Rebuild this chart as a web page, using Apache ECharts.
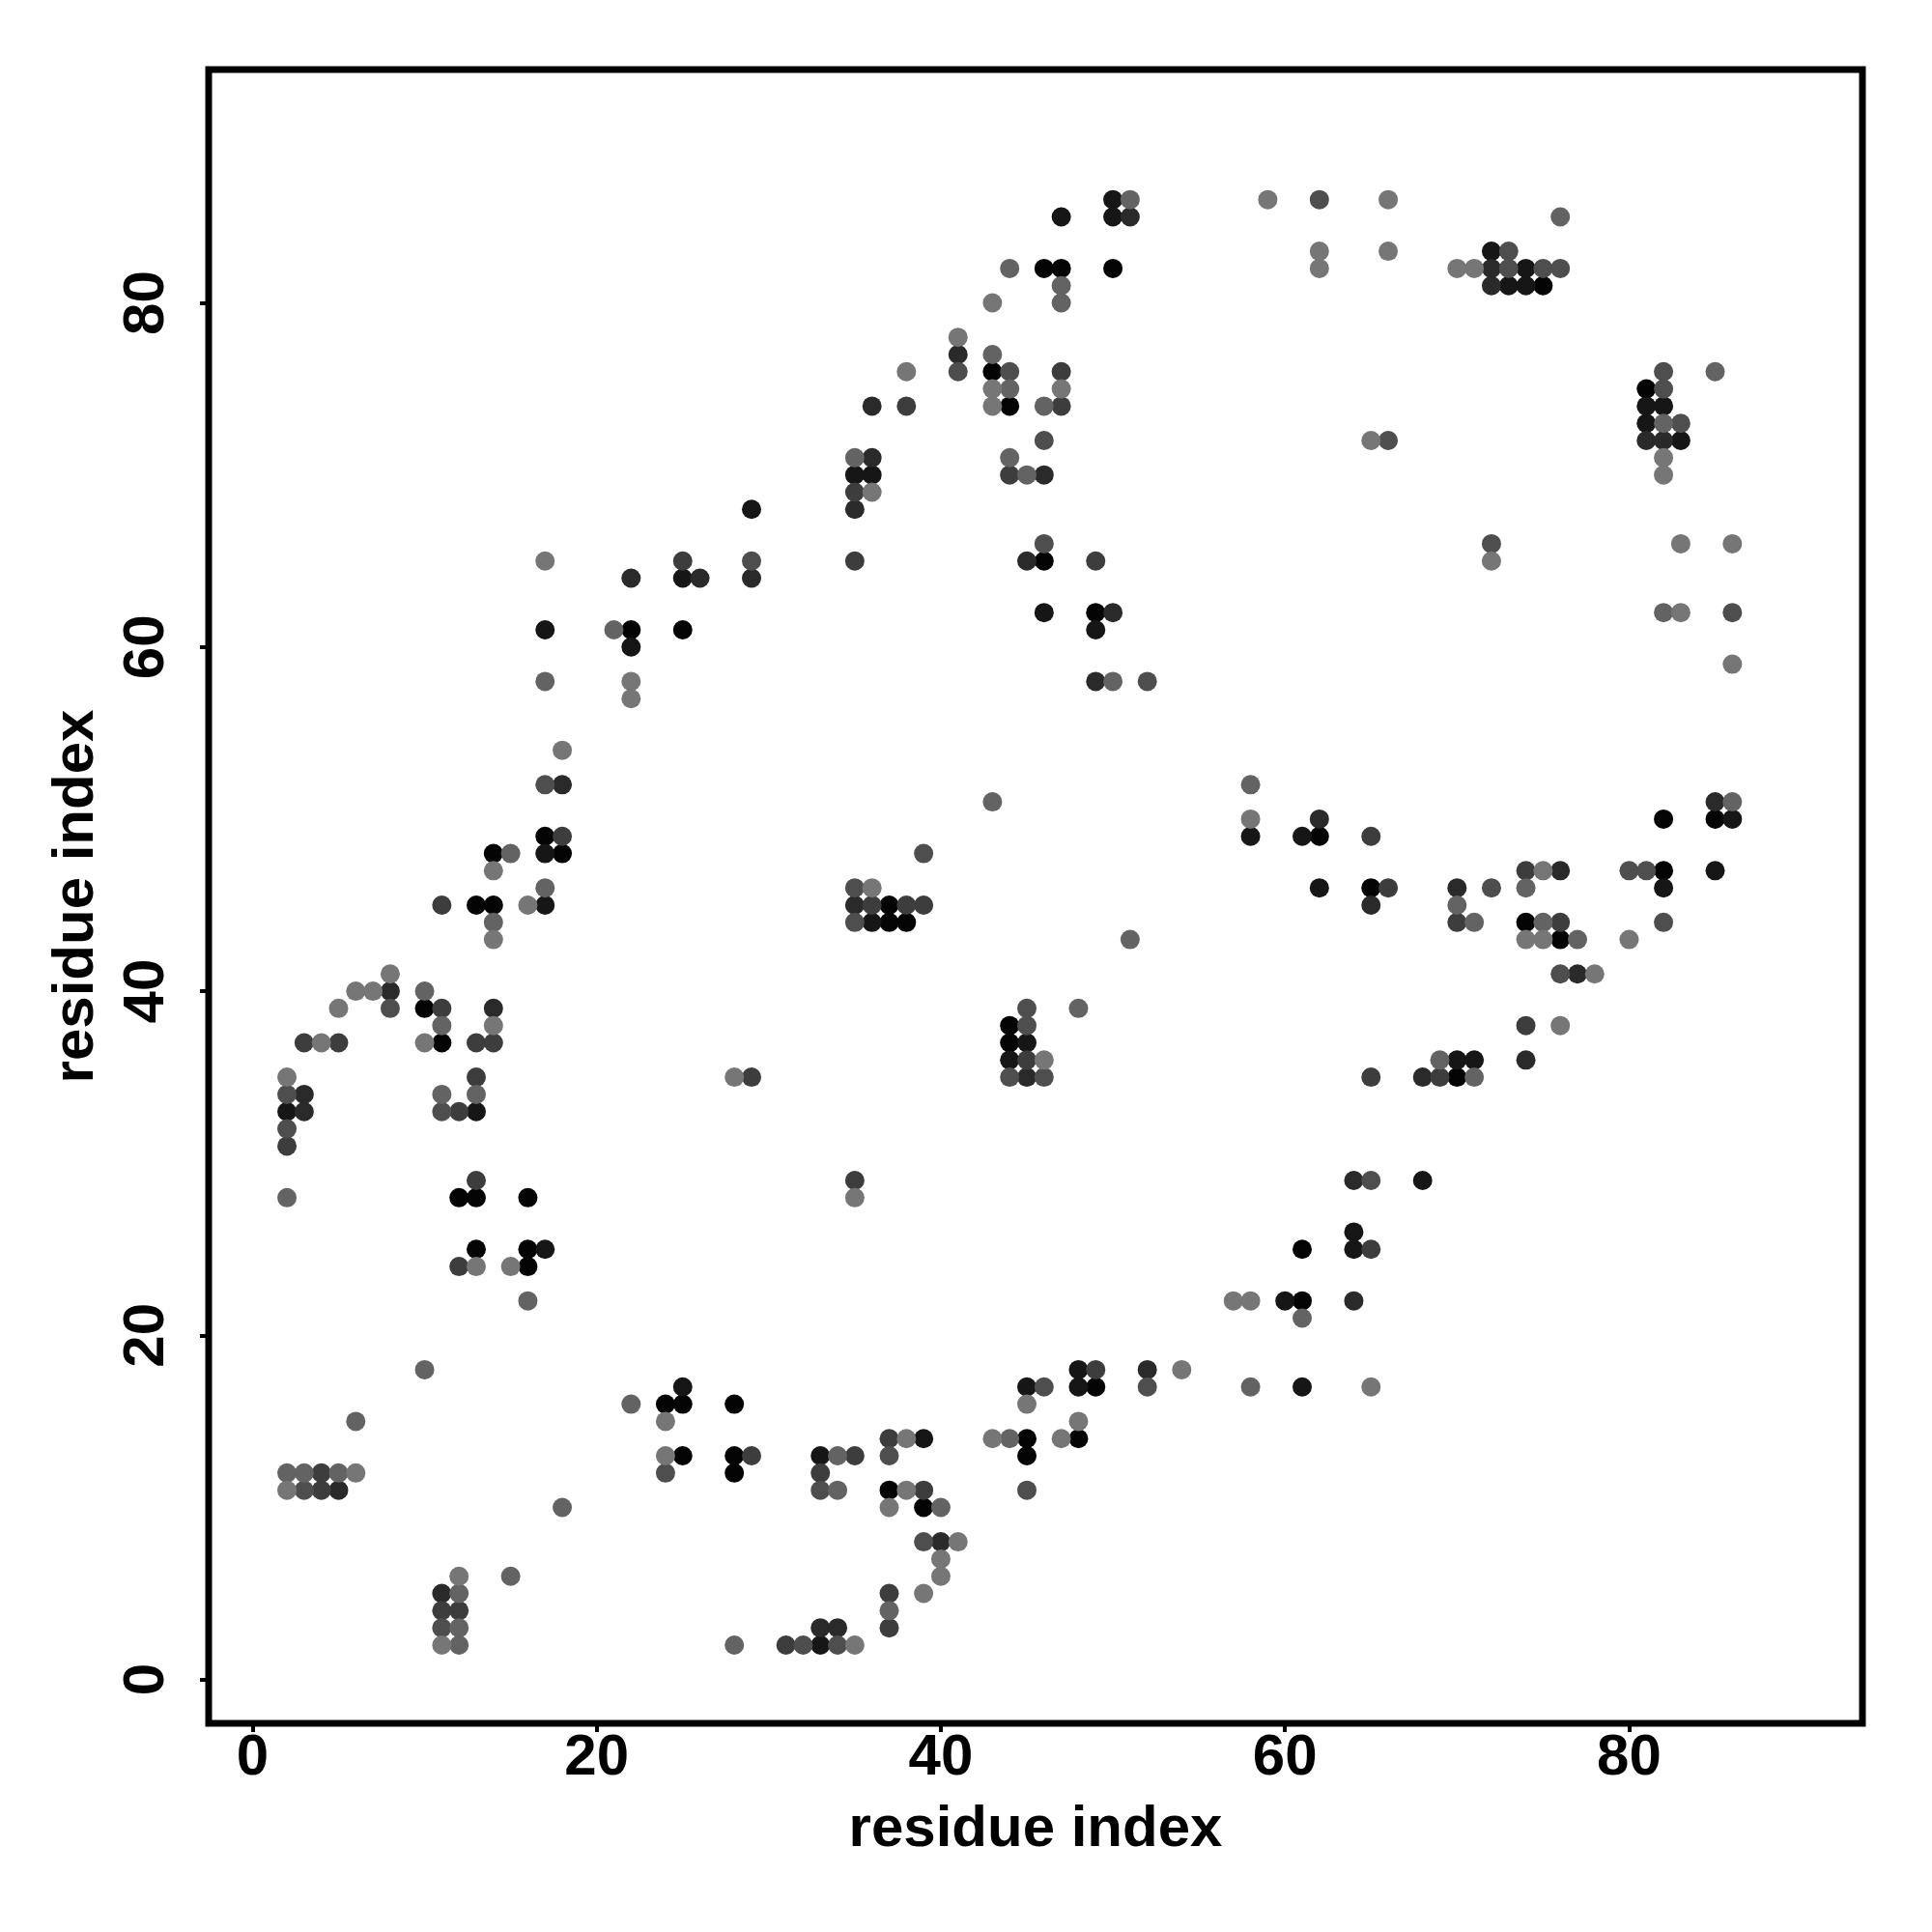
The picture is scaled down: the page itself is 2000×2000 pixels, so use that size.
<!DOCTYPE html>
<html><head><meta charset="utf-8">
<style>html,body{margin:0;padding:0;background:#fff}#c{width:2000px;height:2000px}</style>
<script src="https://cdn.jsdelivr.net/npm/echarts@6/dist/echarts.min.js"></script>
</head><body><div id="c"></div>
<script>
const axisTitle = 'residue index';
const tickValues = [0, 20, 40, 60, 80];
const shadeColors = ['#040404', '#161616', '#2a2a2a', '#3d3d3d', '#4e4e4e', '#636363', '#767676'];

// Contacts [residue i, residue j], grouped by grey level (darkest first)
const shade0 = [[46,82],[47,82],[50,82],[75,81],[43,76],[81,75],[44,74],[46,65],[49,62],[22,61],[25,61],[82,50],[85,50],[17,49],[62,49],[14,48],[18,48],[82,47],[65,46],[13,45],[14,45],[37,45],[37,44],[38,44],[74,44],[76,43],[10,39],[44,38],[11,37],[44,37],[70,35],[12,28],[13,28],[16,28],[13,25],[16,25],[61,25],[16,24],[61,22],[49,17],[24,16],[25,16],[28,16],[45,14],[48,14],[25,13],[28,13],[45,13],[28,12],[37,11],[39,10]];
const shade1 = [[50,86],[47,85],[50,85],[72,83],[74,82],[73,81],[74,81],[81,74],[82,74],[81,73],[83,72],[35,70],[36,70],[29,68],[25,64],[46,62],[17,61],[49,61],[22,60],[86,50],[58,49],[61,49],[17,48],[85,47],[62,46],[82,46],[17,45],[36,44],[45,37],[44,36],[70,36],[71,36],[2,33],[13,33],[68,29],[64,26],[17,25],[64,25],[60,22],[48,18],[25,17],[45,17],[48,17],[61,17],[39,14],[33,13],[33,2]];
const shade2 = [[51,85],[72,82],[72,81],[81,72],[82,72],[41,77],[36,74],[36,71],[46,70],[35,68],[45,65],[22,64],[26,64],[29,64],[50,62],[49,58],[18,52],[85,51],[62,50],[76,47],[70,46],[35,45],[65,45],[77,41],[8,40],[14,39],[74,36],[45,35],[68,35],[3,34],[3,33],[64,29],[64,22],[52,18],[5,11],[40,8],[11,5],[33,3],[34,3]];
const shade3 = [[47,76],[38,74],[47,74],[44,70],[35,69],[25,65],[35,65],[49,65],[18,49],[65,49],[74,47],[66,46],[11,45],[36,45],[38,45],[39,45],[70,44],[76,44],[11,39],[74,38],[3,37],[5,37],[13,37],[14,37],[45,36],[13,35],[29,35],[65,35],[69,35],[12,33],[2,31],[13,29],[35,29],[65,25],[12,24],[49,18],[37,14],[29,13],[35,13],[4,12],[33,12],[4,11],[39,11],[37,5],[11,4],[12,4],[37,3],[31,2]];
const shade4 = [[62,86],[73,83],[73,82],[75,82],[76,82],[41,76],[44,76],[82,76],[82,75],[83,73],[46,72],[66,72],[46,66],[72,66],[29,65],[86,62],[52,58],[17,52],[39,48],[80,47],[81,47],[35,46],[72,46],[35,44],[82,44],[76,41],[8,39],[45,39],[45,38],[44,35],[46,35],[2,34],[11,33],[2,32],[65,29],[46,17],[52,17],[37,13],[24,12],[3,11],[33,11],[45,11],[39,8],[11,3],[32,2],[34,2]];
const shade5 = [[51,86],[76,85],[44,82],[47,81],[47,80],[43,77],[85,76],[44,75],[46,74],[82,73],[35,71],[44,71],[45,70],[82,62],[21,61],[17,58],[50,58],[58,52],[43,51],[86,51],[15,48],[17,46],[74,46],[14,44],[71,44],[75,44],[51,43],[77,43],[70,45],[10,40],[48,39],[11,38],[69,36],[71,35],[11,34],[13,34],[2,28],[16,22],[61,21],[10,18],[58,17],[22,16],[6,15],[44,14],[34,13],[2,12],[3,12],[5,12],[34,11],[18,10],[40,10],[15,6],[12,5],[37,4],[12,3],[12,2],[28,2]];
const shade6 = [[59,86],[66,86],[62,83],[66,83],[62,82],[70,82],[71,82],[43,80],[41,78],[38,76],[43,75],[47,75],[43,74],[65,72],[82,71],[82,70],[36,69],[83,66],[86,66],[17,65],[72,65],[83,62],[86,59],[22,58],[22,57],[18,54],[58,50],[14,47],[75,47],[36,46],[16,45],[14,43],[74,43],[75,43],[80,43],[8,41],[78,41],[6,40],[7,40],[5,39],[14,38],[76,38],[4,37],[10,37],[46,36],[2,35],[28,35],[35,28],[13,24],[15,24],[57,22],[58,22],[54,18],[65,17],[45,16],[24,15],[48,15],[38,14],[43,14],[47,14],[24,13],[6,12],[2,11],[38,11],[37,10],[41,8],[40,7],[12,6],[40,6],[39,5],[11,2],[35,2]];

const shadeGroups = [shade0, shade1, shade2, shade3, shade4, shade5, shade6];
const font = '"Liberation Sans", Arial, sans-serif';
const axisCommon = {
  type: 'value', min: -2.55, max: 93.56,
  splitLine: {show: false}, axisLine: {show: false, onZero: false},
  axisTick: {show: true, inside: false, length: 9, customValues: tickValues, lineStyle: {color: '#000', width: 4}},
  name: axisTitle, nameLocation: 'middle',
  nameTextStyle: {fontFamily: font, fontWeight: 'bold', fontSize: 60, color: '#000'}
};
const chart = echarts.init(document.getElementById('c'), null, {renderer: 'canvas'});
chart.setOption({
  animation: false,
  backgroundColor: '#fff',
  grid: {left: 216, right: 72, top: 72, bottom: 216, show: true, borderColor: '#000', borderWidth: 7, backgroundColor: 'transparent'},
  xAxis: Object.assign({}, axisCommon, {
    nameGap: 80,
    axisLabel: {customValues: tickValues, margin: 6, fontFamily: font, fontWeight: 'bold', fontSize: 60, color: '#000'}
  }),
  yAxis: Object.assign({}, axisCommon, {
    nameGap: 107,
    axisLabel: {customValues: tickValues, rotate: 90, margin: 34, fontFamily: font, fontWeight: 'bold', fontSize: 60, color: '#000', align: 'center', verticalAlign: 'bottom'}
  }),
  series: shadeGroups.map((d, i) => ({
    type: 'scatter', data: d, symbol: 'circle', symbolSize: 20,
    itemStyle: {color: shadeColors[i], opacity: 1}, clip: false, silent: true
  }))
});
</script></body></html>
